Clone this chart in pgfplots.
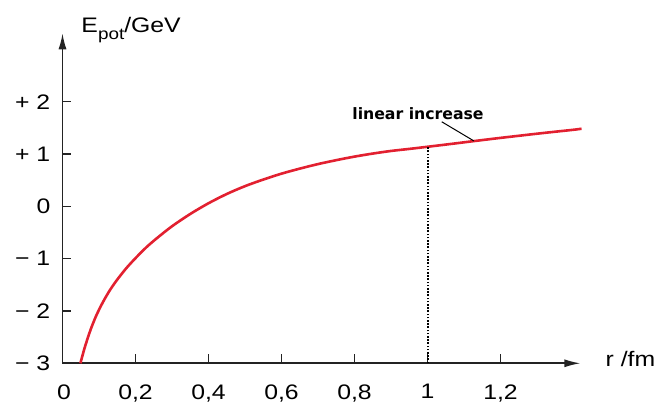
\documentclass[border=0pt]{standalone}
\usepackage{fontspec}
\setmainfont[FakeStretch=1.18]{Liberation Sans}
\newfontfamily\dejab{DejaVu Sans}
\usepackage{pgfplots}
\pgfplotsset{compat=1.18}
\usetikzlibrary{arrows.meta}
\definecolor{curvered}{RGB}{226,32,48}
\definecolor{axgray}{RGB}{35,35,35}

\pgfplotstableread{
x y
0.049 -3.00
0.06 -2.72
0.07 -2.50
0.08 -2.30
0.093 -2.08
0.11 -1.84
0.13 -1.60
0.15 -1.40
0.175 -1.18
0.20 -0.99
0.23 -0.78
0.26 -0.60
0.30 -0.38
0.35 -0.145
0.40 0.06
0.45 0.237
0.50 0.387
0.55 0.513
0.60 0.626
0.65 0.722
0.70 0.809
0.75 0.884
0.80 0.952
0.85 1.01
0.90 1.06
0.95 1.099
1.00 1.14
1.05 1.182
1.10 1.225
1.15 1.268
1.20 1.31
1.25 1.35
1.30 1.39
1.35 1.428
1.40 1.465
1.422 1.485
}\potential

\begin{document}
\fontsize{21bp}{25bp}\selectfont
\begin{tikzpicture}
\useasboundingbox (-62.5bp,-39.7bp) rectangle (596.5bp,363.3bp);
\begin{axis}[
  at={(0,0)}, anchor=south west,
  x=365bp, y=52.3bp,
  xmin=0, xmax=1.419, ymin=-3, ymax=3.31,
  axis lines=left,
  axis line style={line width=1.6bp, draw=axgray, -{Latex[length=16bp,width=8bp]}},
  tick align=inside, major tick length=9bp,
  tick style={line width=1.4bp, draw=axgray},
  xtick={0,0.2,0.4,0.6,0.8,1,1.2},
  xticklabels={\hspace*{3bp}0,{0,2},{0,4},{0,6},{0,8},\raisebox{-2bp}{1},{1,2}},
  ytick={-3,-2,-1,0,1,2},
  yticklabels={− 3,− 2,− 1,0,+ 1,+ 2},
  ticklabel style={font=\fontsize{21bp}{25bp}\selectfont, inner sep=0pt},
  xticklabel style={anchor=north, yshift=-21bp},
  yticklabel style={anchor=east, xshift=-12bp},
  clip=false,
]
\addplot[draw=curvered, line width=2.6bp, smooth] table[x=x,y=y] {\potential};
\addplot[draw=black, line width=2bp, dash pattern=on 1.6bp off 1.6bp] coordinates {(1,-3) (1,1.14)};
\draw[black, line width=1bp] (axis cs:1.039,1.618) -- (axis cs:1.127,1.252);
\node[anchor=center, inner sep=0pt, font=\dejab\bfseries\fontsize{15.7bp}{18bp}\selectfont] at (axis cs:0.974,1.765) {linear increase};
\node[anchor=base west, inner sep=0pt, font=\fontsize{21bp}{25bp}\selectfont] at (axis cs:0.0515,3.327) {E\raisebox{-7bp}{\fontsize{16bp}{18bp}\selectfont pot}/GeV};
\node[anchor=base west, inner sep=0pt, font=\fontsize{21bp}{25bp}\selectfont] at (axis cs:1.4877,-3.054) {r /fm};
\end{axis}
\end{tikzpicture}
\end{document}
